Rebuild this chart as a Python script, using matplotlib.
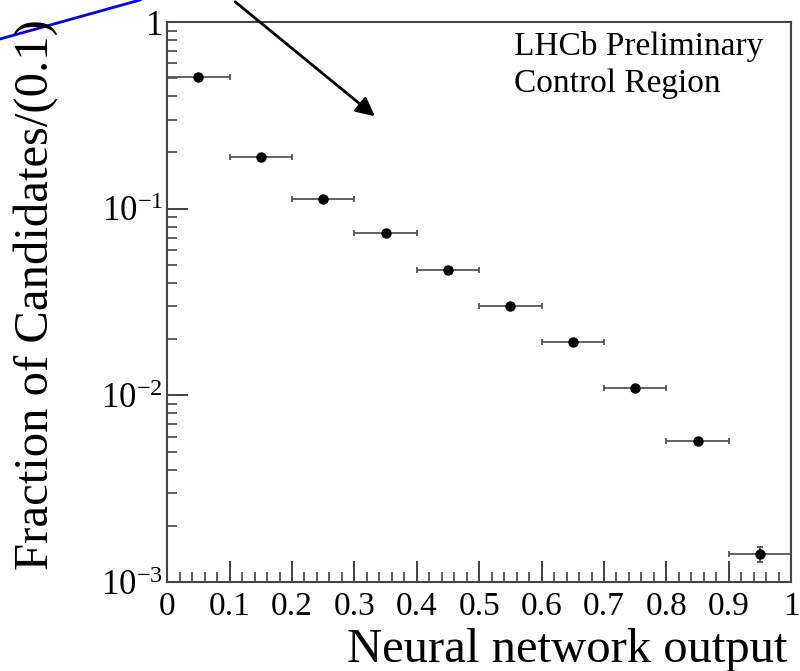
import matplotlib
matplotlib.use("Agg")
import matplotlib.pyplot as plt
from matplotlib.lines import Line2D
from matplotlib.patches import FancyArrowPatch
from matplotlib.ticker import MultipleLocator, LogLocator, FixedLocator, FixedFormatter, NullFormatter

# bin centres, half widths and normalised fractions
nn_output = [0.05, 0.15, 0.25, 0.35, 0.45, 0.55, 0.65, 0.75, 0.85, 0.95]
bin_half_width = [0.05] * 10
fraction = [0.507, 0.189, 0.1127, 0.0741, 0.0469, 0.0301, 0.0193, 0.01096, 0.00566, 0.00141]
fraction_err = [0.002, 0.001, 0.0008, 0.0006, 0.0004, 0.0003, 0.0002, 0.00015, 0.0001, 0.00013]

x_ticks = [0, 0.1, 0.2, 0.3, 0.4, 0.5, 0.6, 0.7, 0.8, 0.9, 1]
x_tick_labels = ["0", "0.1", "0.2", "0.3", "0.4", "0.5", "0.6", "0.7", "0.8", "0.9", "1"]
y_ticks = [1e-3, 1e-2, 1e-1, 1]
y_tick_labels = [r"$10^{-3}$", r"$10^{-2}$", r"$10^{-1}$", "1"]


def make_plot():

    plt.rcParams["font.family"] = ["Liberation Serif", "DejaVu Serif"]
    plt.rcParams["mathtext.fontset"] = "custom"
    plt.rcParams["mathtext.rm"] = "Liberation Serif"
    plt.rcParams["mathtext.it"] = "Liberation Serif:italic"

    fig = plt.figure(figsize=(8.0, 6.71), dpi=100)
    ax = fig.add_axes([0.209, 0.1326, 0.780, 0.8346])

    ax.errorbar(
        nn_output, fraction,
        xerr=bin_half_width, yerr=fraction_err,
        fmt="o", color="black", markersize=6.5,
        ecolor="#555555", elinewidth=1.3,
        capsize=2.5, capthick=1.3
    )

    ax.set_yscale("log")
    ax.set_xlim(0, 1)
    ax.set_ylim(1e-3, 1)

    ax.xaxis.set_major_locator(FixedLocator(x_ticks))
    ax.xaxis.set_major_formatter(FixedFormatter(x_tick_labels))
    ax.xaxis.set_minor_locator(MultipleLocator(0.02))

    ax.yaxis.set_major_locator(FixedLocator(y_ticks))
    ax.yaxis.set_major_formatter(FixedFormatter(y_tick_labels))
    ax.yaxis.set_minor_locator(LogLocator(base=10, subs=range(2, 10)))
    ax.yaxis.set_minor_formatter(NullFormatter())

    ax.tick_params(axis="both", which="major", direction="in", length=15,
                   width=1.3, color="#333333")
    ax.tick_params(axis="both", which="minor", direction="in", length=7.5,
                   width=1.1, color="#333333")
    ax.tick_params(axis="x", pad=7, labelsize=24)
    ax.tick_params(axis="y", pad=3, labelsize=25)

    for spine in ax.spines.values():
        spine.set_linewidth(1.5)
        spine.set_color("#444444")

    ax.text(0.555, 0.941, "LHCb Preliminary", transform=ax.transAxes,
            ha="left", va="baseline", fontsize=24)
    ax.text(0.555, 0.875, "Control Region", transform=ax.transAxes,
            ha="left", va="baseline", fontsize=24)

    # axis titles placed in figure coordinates
    fig.text(0.984, 0.0134, "Neural network output",
             ha="right", va="baseline", fontsize=35)
    fig.text(0.045, 0.151, "Fraction of Candidates/(0.1)",
             ha="center", va="bottom", rotation=90, fontsize=35)

    # overlay lines crossing the top left corner
    fig.add_artist(Line2D([0.0, 0.175], [1 - 39 / 671, 1.0],
                          transform=fig.transFigure, color="#0000ee", lw=2))
    fig.add_artist(FancyArrowPatch(
        (233 / 800, 1.0), (377 / 800, 1 - 118 / 671),
        transform=fig.transFigure, arrowstyle="-|>",
        mutation_scale=28, color="black", lw=2
    ))

    fig.savefig("out.png", dpi=100)


if __name__ == "__main__":

    make_plot()
